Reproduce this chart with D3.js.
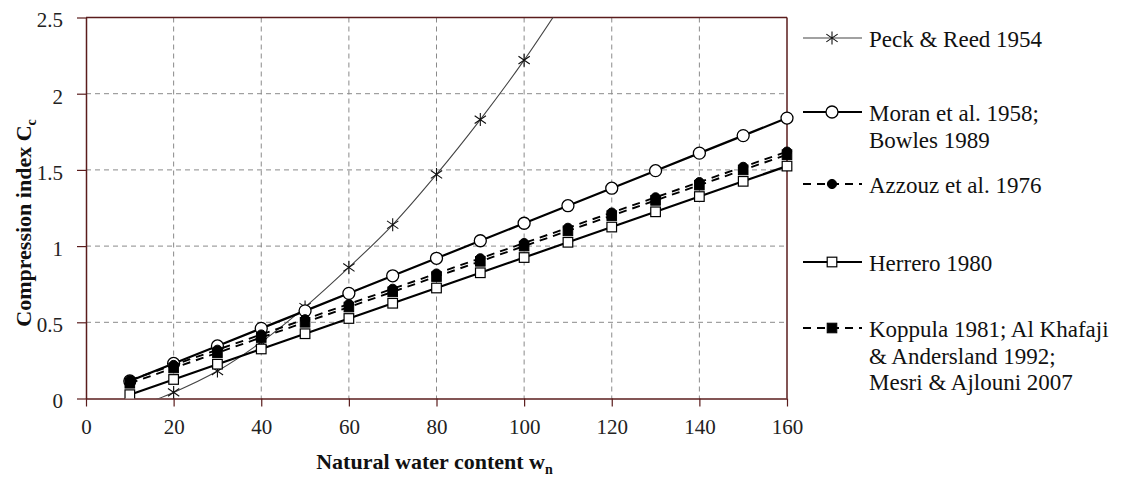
<!DOCTYPE html>
<html>
<head>
<meta charset="utf-8">
<script src="https://cdn.jsdelivr.net/npm/d3@7"></script>
<style>
  body { margin: 0; background: #fff; }
  svg { display: block; }
  text { font-family: "Liberation Serif", "DejaVu Serif", "Times New Roman", serif; }
</style>
</head>
<body>
<div id="chart"></div>
<script>
const width = 1124
const height = 479
const margin = {top: 17.5, right: 337, bottom: 80.5, left: 86}

// data
const waterContent = [10, 20, 30, 40, 50, 60, 70, 80, 90, 100, 110, 120, 130, 140, 150, 160]
const peckReed = [-0.07, 0.04, 0.18, 0.37, 0.6, 0.86, 1.14, 1.47, 1.83, 2.22, 2.65]
const moran = [0.115, 0.23, 0.345, 0.46, 0.575, 0.69, 0.805, 0.92, 1.035, 1.15, 1.265, 1.38, 1.495, 1.61, 1.725, 1.84]
const azzouz = [0.12, 0.22, 0.32, 0.42, 0.52, 0.62, 0.72, 0.82, 0.92, 1.02, 1.12, 1.22, 1.32, 1.42, 1.52, 1.62]
const herrero = [0.025, 0.125, 0.225, 0.325, 0.425, 0.525, 0.625, 0.725, 0.825, 0.925, 1.025, 1.125, 1.225, 1.325, 1.425, 1.525]
const koppula = [0.1, 0.2, 0.3, 0.4, 0.5, 0.6, 0.7, 0.8, 0.9, 1.0, 1.1, 1.2, 1.3, 1.4, 1.5, 1.6]

const xTicks = [0, 20, 40, 60, 80, 100, 120, 140, 160]
const yTicks = [0, 0.5, 1, 1.5, 2, 2.5]

const legendNames = [
    ["Peck & Reed 1954"],
    ["Moran et al. 1958;", "Bowles 1989"],
    ["Azzouz et al. 1976"],
    ["Herrero 1980"],
    ["Koppula 1981; Al Khafaji", "& Andersland 1992;", "Mesri & Ajlouni 2007"]
]

const series = [
    {values: peckReed, marker: "star", dash: null, stroke: "#444", sw: 1.1, smooth: true},
    {values: moran, marker: "circleOpen", dash: null, stroke: "#000", sw: 2.2},
    {values: azzouz, marker: "circleFilled", dash: "8,6", stroke: "#000", sw: 1.9},
    {values: herrero, marker: "squareOpen", dash: null, stroke: "#000", sw: 2.2},
    {values: koppula, marker: "squareFilled", dash: "8,6", stroke: "#000", sw: 1.9}
]

const axisColor = "#5a1c1c"

const innerW = width - margin.left - margin.right
const innerH = height - margin.top - margin.bottom

const svg = d3.select("div#chart").append("svg").attr("width", width).attr("height", height)
svg.append("rect").attr("width", width).attr("height", height).attr("fill", "#fff")

const x = d3.scaleLinear().domain([0, 160]).range([0, innerW])
const y = d3.scaleLinear().domain([0, 2.5]).range([innerH, 0])

const plot = svg.append("g").attr("transform", `translate(${margin.left}, ${margin.top})`)

svg.append("defs").append("clipPath").attr("id", "clip")
    .append("rect").attr("x", -8).attr("y", 0).attr("width", innerW + 16).attr("height", innerH)

// grid
plot.append("g").selectAll("line").data(xTicks.slice(1, -1)).join("line")
    .attr("x1", d => x(d)).attr("x2", d => x(d)).attr("y1", 0).attr("y2", innerH)
    .attr("stroke", "#8a8a8a").attr("stroke-width", 1).attr("stroke-dasharray", "5,4")
plot.append("g").selectAll("line").data(yTicks.slice(1, -1)).join("line")
    .attr("y1", d => y(d)).attr("y2", d => y(d)).attr("x1", 0).attr("x2", innerW)
    .attr("stroke", "#8a8a8a").attr("stroke-width", 1).attr("stroke-dasharray", "5,4")

// axes
const xAxis = d3.axisBottom(x).tickValues(xTicks).tickSize(8).tickSizeOuter(0).tickPadding(13).tickFormat(d3.format("d"))
const yAxis = d3.axisLeft(y).tickValues(yTicks).tickSize(9).tickSizeOuter(0).tickPadding(14).tickFormat(d => d)

const xAxisGroup = plot.append("g").attr("transform", `translate(0, ${innerH})`).call(xAxis)
const yAxisGroup = plot.append("g").call(yAxis)

;[xAxisGroup, yAxisGroup].forEach(g => {
    g.attr("font-family", null)
    g.select(".domain").attr("stroke", axisColor).attr("stroke-width", 1.5)
    g.selectAll(".tick line").attr("stroke", axisColor).attr("stroke-width", 1.2)
    g.selectAll(".tick text").attr("font-size", 21).attr("fill", "#222")
})
yAxisGroup.selectAll(".tick text").attr("dy", "0.45em")

// top and right border
plot.append("line").attr("x1", 0).attr("x2", innerW).attr("y1", 0).attr("y2", 0)
    .attr("stroke", axisColor).attr("stroke-width", 1.5)
plot.append("line").attr("x1", innerW).attr("x2", innerW).attr("y1", 0).attr("y2", innerH)
    .attr("stroke", axisColor).attr("stroke-width", 1.5)

// markers
function drawMarker(g, type, cx, cy) {
    if (type === "star") {
        const r = 6.5
        g.append("path")
            .attr("d", `M${cx},${cy - r}V${cy + r}M${cx - r * 0.87},${cy - r * 0.6}L${cx + r * 0.87},${cy + r * 0.6}M${cx - r * 0.87},${cy + r * 0.6}L${cx + r * 0.87},${cy - r * 0.6}`)
            .attr("stroke", "#111").attr("stroke-width", 1.1).attr("fill", "none")
    } else if (type === "circleOpen") {
        g.append("circle").attr("cx", cx).attr("cy", cy).attr("r", 6)
            .attr("fill", "#fff").attr("stroke", "#000").attr("stroke-width", 1.3)
    } else if (type === "circleFilled") {
        g.append("circle").attr("cx", cx).attr("cy", cy).attr("r", 4.6)
            .attr("fill", "#000").attr("stroke", "#000").attr("stroke-width", 1)
    } else if (type === "squareOpen") {
        g.append("rect").attr("x", cx - 4.8).attr("y", cy - 4.8).attr("width", 9.6).attr("height", 9.6)
            .attr("fill", "#fff").attr("stroke", "#000").attr("stroke-width", 1.2)
    } else if (type === "squareFilled") {
        g.append("rect").attr("x", cx - 4.8).attr("y", cy - 4.8).attr("width", 9.6).attr("height", 9.6)
            .attr("fill", "#000").attr("stroke", "#000").attr("stroke-width", 1)
    }
}

// series
const dataGroup = plot.append("g").attr("clip-path", "url(#clip)")
series.forEach(s => {
    const pts = s.values.map((v, i) => [waterContent[i], v])
    const line = d3.line().x(d => x(d[0])).y(d => y(d[1]))
    if (s.smooth) line.curve(d3.curveCatmullRom)
    dataGroup.append("path").datum(pts)
        .attr("d", line)
        .attr("fill", "none")
        .attr("stroke", s.stroke)
        .attr("stroke-width", s.sw)
        .attr("stroke-dasharray", s.dash)
    const mg = dataGroup.append("g")
    pts.filter(d => d[1] >= 0 && d[1] <= 2.5).forEach(d => drawMarker(mg, s.marker, x(d[0]), y(d[1])))
})

// axis titles
const xTitle = svg.append("text")
    .attr("x", margin.left + innerW / 2 - 2).attr("y", 469)
    .attr("text-anchor", "middle")
    .attr("font-size", 22).attr("font-weight", "bold").attr("fill", "#111")
xTitle.append("tspan").text("Natural water content w")
xTitle.append("tspan").attr("font-size", 14).attr("dy", 5).text("n")

const yTitle = svg.append("text")
    .attr("transform", `translate(31, ${margin.top + innerH / 2 + 15}) rotate(-90)`)
    .attr("text-anchor", "middle")
    .attr("font-size", 22).attr("font-weight", "bold").attr("fill", "#111")
yTitle.append("tspan").text("Compression index C")
yTitle.append("tspan").attr("font-size", 14).attr("dy", 5).text("c")

// legend
const legendY = [38, 112, 184, 262, 328]
const legend = svg.append("g")
series.forEach((s, i) => {
    const ly = legendY[i]
    legend.append("line").attr("x1", 803).attr("x2", 862).attr("y1", ly).attr("y2", ly)
        .attr("stroke", s.stroke).attr("stroke-width", s.sw)
        .attr("stroke-dasharray", s.dash)
    drawMarker(legend, s.marker, 832, ly)
    const t = legend.append("text").attr("x", 869).attr("y", ly + 9)
        .attr("font-size", 23).attr("fill", "#111")
    legendNames[i].forEach((n, j) => {
        t.append("tspan").attr("x", 869).attr("dy", j === 0 ? 0 : 26.7).text(n)
    })
})
</script>
</body>
</html>
